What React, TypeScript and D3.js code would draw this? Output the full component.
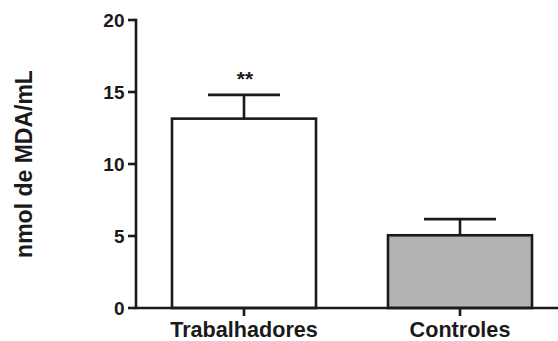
import React from "react";
import * as d3 from "d3";

const categories = ["Trabalhadores", "Controles"];
const means = [13.15, 5.05];
const sems = [1.65, 1.12];
const fills = ["#ffffff", "#b3b3b3"];
const annotations = ["**", ""];
const yTicks = [0, 5, 10, 15, 20];
const yLabel = "nmol de MDA/mL";

export default function App() {
  const W = 558, H = 341;
  const x0 = 136, xEnd = 568, yTop = 20, yBottom = 308;
  const y = d3.scaleLinear().domain([0, 20]).range([yBottom, yTop]);
  const x = d3.scaleBand<string>().domain(categories).range([x0, xEnd]).paddingInner(1 / 3).paddingOuter(1 / 6);
  const bw = x.bandwidth();
  const font = "Liberation Sans, Arial, sans-serif";
  const sw = 2.6;
  const stroke = "#1a1a1a";
  return (
    <svg width={W} height={H} style={{ position: "absolute", left: 0, top: 0 }}>
      <rect width={W} height={H} fill="#fff" />
      {categories.map((c, i) => {
        const bx = x(c)!;
        const cx = bx + bw / 2;
        const top = y(means[i]);
        const et = y(means[i] + sems[i]);
        return (
          <g key={c}>
            <line x1={cx} x2={cx} y1={top} y2={et} stroke={stroke} strokeWidth={sw} />
            <line x1={cx - bw / 4} x2={cx + bw / 4} y1={et} y2={et} stroke={stroke} strokeWidth={sw} />
            <rect x={bx} y={top} width={bw} height={yBottom - top} fill={fills[i]} stroke={stroke} strokeWidth={sw} />
            {annotations[i] && (
              <text x={cx + 1} y={et - 9} textAnchor="middle" fontFamily={font} fontWeight="bold" fontSize={21} fill={stroke}>
                {annotations[i]}
              </text>
            )}
            <line x1={cx} x2={cx} y1={yBottom} y2={yBottom + 8} stroke={stroke} strokeWidth={sw} />
            <text x={cx} y={336.5} textAnchor="middle" fontFamily={font} fontWeight="bold" fontSize={21.6} fill={stroke}>
              {c}
            </text>
          </g>
        );
      })}
      <line x1={x0} x2={W} y1={yBottom} y2={yBottom} stroke={stroke} strokeWidth={sw} />
      <line x1={x0} x2={x0} y1={yTop - 1.3} y2={yBottom + 1.3} stroke={stroke} strokeWidth={sw} />
      {yTicks.map((t) => (
        <g key={t}>
          <line x1={x0 - 8} x2={x0} y1={y(t)} y2={y(t)} stroke={stroke} strokeWidth={sw} />
          <text x={124.5} y={y(t)} dy="0.36em" textAnchor="end" fontFamily={font} fontWeight="bold" fontSize={19} fill={stroke}>
            {t}
          </text>
        </g>
      ))}
      <text transform={`translate(31.5,164) rotate(-90)`} textAnchor="middle" fontFamily={font} fontWeight="bold" fontSize={23} fill={stroke}>
        {yLabel}
      </text>
    </svg>
  );
}
